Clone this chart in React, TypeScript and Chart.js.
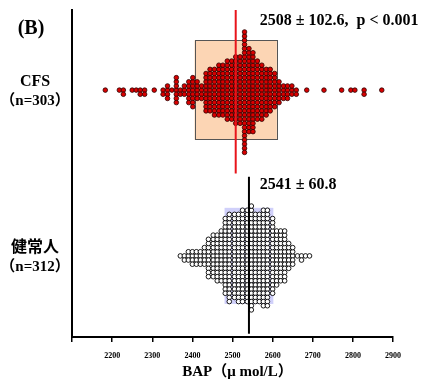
import React, { useEffect, useRef } from 'react';
import { Chart, registerables } from 'chart.js';

Chart.register(...registerables);

// ---------------- data ----------------
const panelLabel = '(B)';
const groupNames = ['CFS', '健常人'];
const groupCounts = ['（n=303）', '（n=312）'];
const groupMeans = [2508, 2541];
const groupSDs = [102.6, 60.8];
const statTexts = ['2508 ± 102.6,  p < 0.001', '2541 ± 60.8'];
const xTitle = 'BAP（μ mol/L）';
const xMin = 2100;
const xMax = 2900;
const xStep = 100;

// CFS: BAP value of each dot column and number of dots in it
const cfsValues = [
  2183, 2218, 2228, 2250, 2260, 2270, 2281, 2305, 2327, 2338, 2349, 2360, 2370, 2380, 2391, 2401,
  2412, 2423, 2434, 2444, 2455, 2466, 2476, 2487, 2498, 2508, 2519, 2530, 2541, 2551, 2562, 2573,
  2584, 2594, 2605, 2616, 2627, 2637, 2648, 2659,
  2685, 2728, 2772, 2795, 2805, 2828, 2872,
];
const cfsCounts = [
  1, 1, 2, 1, 1, 2, 2, 1, 2, 4, 1, 7, 2, 3, 6, 8,
  5, 4, 10, 11, 12, 13, 13, 15, 15, 17, 17, 30, 21, 20, 15, 14,
  12, 11, 9, 6, 4, 4, 3, 2,
  1, 1, 1, 1, 1, 2, 1,
];

// Healthy (健常人)
const healthyValues = [
  2370, 2380, 2390, 2400, 2410, 2420, 2430, 2440, 2452, 2462, 2472, 2482, 2492, 2505, 2515, 2525,
  2537, 2547, 2557, 2567, 2577, 2587, 2600, 2610, 2620, 2630, 2640, 2650, 2662, 2672, 2682, 2692,
];
const healthyCounts = [
  1, 2, 3, 4, 4, 4, 5, 10, 11, 12, 13, 19, 22, 21, 22, 23,
  23, 26, 22, 22, 24, 24, 19, 14, 13, 13, 7, 5, 1, 2, 1, 1,
];

// ---------------- layout / style ----------------
const rowCenters = [75.5, 24.8]; // in y-scale units (0..100)
const dotStep = 1.27;
const boxHalf = [15.2, 14.7];
const lineRanges = [
  [50, 100],
  [1, 49],
];
const statY = [96.6, 46.6];
const statX = 2568;
const boxFills = ['#FCD5B4', '#D0D0FA'];
const boxStrokes = ['#555555', null];
const lineColors = ['#E8141B', '#000000'];
const serif = '"Liberation Serif", "Times New Roman", "Noto Sans CJK JP", serif';

function buildPoints(values: number[], counts: number[], center: number) {
  const pts: { x: number; y: number }[] = [];
  values.forEach((v, i) => {
    const n = counts[i];
    for (let k = 0; k < n; k++) {
      const idx = k === 0 ? 0 : k % 2 === 1 ? -(k + 1) / 2 : k / 2;
      pts.push({ x: v, y: center + idx * dotStep });
    }
  });
  return pts;
}

const overlay = {
  id: 'overlay',
  beforeDatasetsDraw(chart: any) {
    const { ctx, scales } = chart;
    const x = scales.x;
    const y = scales.y;
    ctx.save();
    for (let i = 0; i < 2; i++) {
      const x0 = x.getPixelForValue(groupMeans[i] - groupSDs[i]);
      const x1 = x.getPixelForValue(groupMeans[i] + groupSDs[i]);
      const y0 = y.getPixelForValue(rowCenters[i] + boxHalf[i]);
      const y1 = y.getPixelForValue(rowCenters[i] - boxHalf[i]);
      ctx.fillStyle = boxFills[i];
      ctx.fillRect(x0, y0, x1 - x0, y1 - y0);
      if (boxStrokes[i]) {
        ctx.strokeStyle = boxStrokes[i] as string;
        ctx.lineWidth = 1;
        ctx.strokeRect(Math.round(x0) + 0.5, Math.round(y0) + 0.5, Math.round(x1 - x0), Math.round(y1 - y0));
      }
    }
    ctx.restore();
  },
  afterDatasetsDraw(chart: any) {
    const { ctx, scales } = chart;
    const x = scales.x;
    const y = scales.y;
    ctx.save();
    // mean lines
    for (let i = 0; i < 2; i++) {
      const px = x.getPixelForValue(groupMeans[i]);
      ctx.strokeStyle = lineColors[i];
      ctx.lineWidth = 2;
      ctx.beginPath();
      ctx.moveTo(px, y.getPixelForValue(lineRanges[i][1]));
      ctx.lineTo(px, y.getPixelForValue(lineRanges[i][0]));
      ctx.stroke();
    }
    // stat texts
    ctx.fillStyle = '#000';
    ctx.textBaseline = 'middle';
    ctx.textAlign = 'left';
    ctx.font = `bold 16px ${serif}`;
    for (let i = 0; i < 2; i++) {
      ctx.fillText(statTexts[i], x.getPixelForValue(statX), y.getPixelForValue(statY[i]));
    }
    // panel label
    ctx.textAlign = 'center';
    ctx.font = `bold 20px ${serif}`;
    ctx.fillText(panelLabel, 31, 29);
    // group labels
    for (let i = 0; i < 2; i++) {
      const cy = y.getPixelForValue(rowCenters[i]);
      ctx.font = `bold 16px ${serif}`;
      ctx.fillText(groupNames[i], 35, cy - 8);
      ctx.font = `bold 15px ${serif}`;
      ctx.fillText(groupCounts[i], 35, cy + 11);
    }
    // x title
    ctx.font = `bold 15px ${serif}`;
    ctx.fillText(xTitle, (x.left + x.right) / 2 + 5, 372);
    ctx.restore();
  },
};

export default function App() {
  const ref = useRef<HTMLCanvasElement | null>(null);
  useEffect(() => {
    if (!ref.current) return;
    const chart = new Chart(ref.current, {
      type: 'scatter',
      data: {
        datasets: [
          {
            data: buildPoints(cfsValues, cfsCounts, rowCenters[0]),
            pointRadius: 2.3,
            pointBackgroundColor: '#D80000',
            pointBorderColor: '#2a0000',
            pointBorderWidth: 0.8,
          },
          {
            data: buildPoints(healthyValues, healthyCounts, rowCenters[1]),
            pointRadius: 2.3,
            pointBackgroundColor: '#ffffff',
            pointBorderColor: '#000000',
            pointBorderWidth: 0.9,
          },
        ],
      },
      options: {
        responsive: false,
        animation: false,
        layout: { padding: { left: 72, top: 10, right: 33, bottom: 0 } },
        plugins: { legend: { display: false }, tooltip: { enabled: false } },
        scales: {
          x: {
            type: 'linear',
            min: xMin,
            max: xMax,
            ticks: {
              stepSize: xStep,
              callback: (v: any) => (v === xMin ? '' : String(v)),
              font: { family: serif, size: 8, weight: 'bold' },
              color: '#000',
              padding: 9,
              maxRotation: 0,
              autoSkip: false,
            },
            grid: {
              display: true,
              drawOnChartArea: false,
              drawTicks: true,
              tickLength: 5,
              color: '#000',
              lineWidth: 1.5,
            },
            border: { display: true, color: '#000', width: 2 },
            afterFit: (s: any) => {
              s.height = 46;
            },
          },
          y: {
            type: 'linear',
            min: 0,
            max: 100,
            ticks: { display: false },
            grid: { display: false, drawTicks: false },
            border: { display: true, color: '#000', width: 2 },
            afterFit: (s: any) => {
              s.width = 0;
            },
          },
        },
      } as any,
      plugins: [overlay],
    });
    return () => chart.destroy();
  }, []);
  return (
    <div style={{ position: 'absolute', left: 0, top: 0, width: 426, height: 383, background: '#fff' }}>
      <canvas ref={ref} width={426} height={383} style={{ display: 'block' }} />
    </div>
  );
}
